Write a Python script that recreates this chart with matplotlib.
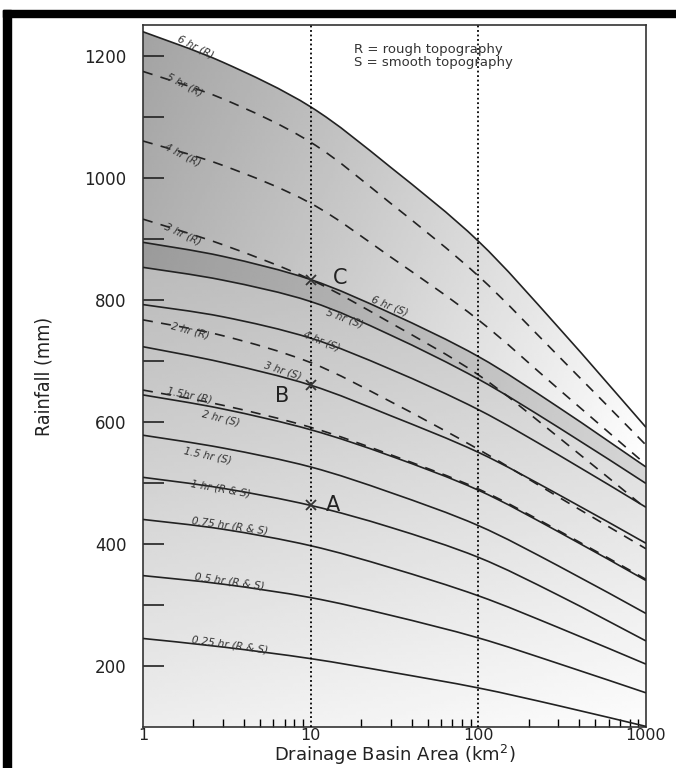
import numpy as np
import matplotlib.pyplot as plt
from matplotlib.patches import Rectangle, PathPatch
from matplotlib.path import Path

area = [1, 3, 10, 30, 100, 300, 1000]

# rainfall (mm), rough topography (dashed, 6 hr is the solid outline)
r6 = [1239, 1189, 1116, 1017, 896, 755, 591]
r5 = [1174, 1129, 1058, 958, 839, 708, 562]
r4 = [1060, 1020, 958, 870, 767, 654, 530]
r3 = [932, 890, 833, 762, 677, 575, 458]
r2 = [767, 741, 697, 633, 555, 477, 392]
r15 = [652, 627, 591, 546, 490, 422, 342]

# rainfall (mm), smooth topography and both (solid)
s6 = [894, 871, 833, 778, 707, 624, 526]
s5 = [853, 832, 797, 742, 670, 591, 499]
s4 = [792, 772, 737, 686, 620, 546, 460]
s3 = [723, 697, 660, 610, 550, 481, 401]
s2 = [644, 621, 587, 544, 488, 420, 340]
s15 = [578, 557, 526, 484, 430, 364, 286]
rs1 = [509, 491, 463, 427, 378, 316, 241]
rs075 = [440, 424, 397, 361, 315, 263, 203]
rs05 = [348, 334, 312, 283, 246, 204, 156]
rs025 = [245, 231, 212, 190, 164, 135, 101]

points = {'A': (10, 463), 'B': (10, 660), 'C': (10, 833)}


def smooth_path(xs, ys):
    # bezier path through the read points (control points placed in log-x space)
    L = np.log10(xs)
    v = np.array(ys, dtype=float)
    n = len(L)
    verts = [(xs[0], v[0])]
    codes = [Path.MOVETO]
    for i in range(n - 1):
        i0, i2 = max(i - 1, 0), min(i + 2, n - 1)
        c1 = (L[i] + (L[i + 1] - L[i0]) / 6, v[i] + (v[i + 1] - v[i0]) / 6)
        c2 = (L[i + 1] - (L[i2] - L[i]) / 6, v[i + 1] - (v[i2] - v[i]) / 6)
        verts += [(10 ** c1[0], c1[1]), (10 ** c2[0], c2[1]), (xs[i + 1], v[i + 1])]
        codes += [Path.CURVE4] * 3
    return verts, codes


fig = plt.figure(figsize=(6.76, 7.68), dpi=100)
ax = fig.add_axes([0.2115, 0.0534, 0.744, 0.914])
ax.set_xscale('log')
ax.set_xlim(1, 1000)
ax.set_ylim(100, 1250)

# frame of the figure (left and top black bars)
fig.patches.append(Rectangle((0.005, 0), 0.012, 0.987, transform=fig.transFigure,
                             color='black', zorder=10))
fig.patches.append(Rectangle((0.005, 0.978), 0.995, 0.009, transform=fig.transFigure,
                             color='black', zorder=10))

# shaded areas: a gradient image clipped to each band
xx, yy = np.meshgrid(np.linspace(0, 1, 200), np.linspace(0, 1, 200))


def band(lower, upper, g):
    uv, uc = smooth_path(area, upper)
    if lower is None:
        lv = [(area[-1], 100), (area[0], 100)]
        lc = [Path.LINETO, Path.LINETO]
    else:
        lv, lc = smooth_path(area, lower)
        lv = lv[::-1]
        lc = [Path.LINETO] + [Path.CURVE4] * (len(lv) - 1)
    path = Path(uv + lv + [uv[0]], uc + lc + [Path.CLOSEPOLY])
    im = ax.imshow(np.clip(g, 0, 1), cmap='gray', vmin=0, vmax=1, origin='lower',
                   extent=[0, 1, 0, 1], transform=ax.transAxes, aspect='auto',
                   interpolation='bilinear', zorder=0)
    im.set_clip_path(path, transform=ax.transData)


band(s6, r6, 0.64 + 0.26 * xx + 0.16 * (0.98 - yy))
band(s5, s6, 0.6 + 0.2 * xx + 0.1 * (0.75 - yy))
band(None, s5, 0.72 + 0.3 * (0.7 - yy) + 0.06 * xx)

solid = [r6, s6, s5, s4, s3, s2, s15, rs1, rs075, rs05, rs025]
for s in solid:
    v, c = smooth_path(area, s)
    ax.add_patch(PathPatch(Path(v, c), facecolor='none', edgecolor='#222222',
                           lw=1.2, zorder=3))
for d in [r5, r4, r3, r2, r15]:
    v, c = smooth_path(area, d)
    ax.add_patch(PathPatch(Path(v, c), facecolor='none', edgecolor='#222222',
                           lw=1.2, ls=(0, (6, 5)), zorder=3))

for xv in [10, 100]:
    ax.axvline(xv, color='black', ls=(0, (1, 1.5)), lw=1.3, zorder=4)

# curve labels
labels = [
    ('6 hr (R)', 2.05, 1214, -27), ('5 hr (R)', 1.78, 1152, -27),
    ('4 hr (R)', 1.73, 1037, -27), ('3 hr (R)', 1.73, 908, -25),
    ('2 hr (R)', 1.9, 750, -15), ('1.5hr (R)', 1.9, 643, -12),
    ('6 hr (S)', 29.7, 790, -22), ('5 hr (S)', 16, 770, -20),
    ('4 hr (S)', 11.7, 733, -22), ('3 hr (S)', 6.8, 684, -18),
    ('2 hr (S)', 2.9, 605, -14), ('1.5 hr (S)', 2.44, 544, -12),
    ('1 hr (R & S)', 2.9, 490, -10), ('0.75 hr (R & S)', 3.3, 429, -8),
    ('0.5 hr (R & S)', 3.3, 339, -8), ('0.25 hr (R & S)', 3.3, 235, -8),
]
for t, xv, yv, rot in labels:
    ax.text(xv, yv, t, fontsize=7.5, style='italic', color='#333333', rotation=rot,
            ha='center', va='center', zorder=5)

for k, (xv, yv) in points.items():
    ax.plot(xv, yv, marker='x', color='#333333', ms=7, mew=1.3, zorder=6)
ax.text(14.9, 836, 'C', fontsize=15, color='#222222', va='center', ha='center', zorder=6)
ax.text(6.8, 642, 'B', fontsize=15, color='#222222', va='center', ha='center', zorder=6)
ax.text(13.6, 463, 'A', fontsize=15, color='#222222', va='center', ha='center', zorder=6)

ax.text(0.42, 0.975, 'R = rough topography\nS = smooth topography', transform=ax.transAxes,
        fontsize=9.5, color='#333333', va='top', ha='left', linespacing=1.0)

ax.set_yticks([200, 400, 600, 800, 1000, 1200])
ax.set_yticks([300, 500, 700, 900, 1100], minor=True)
ax.set_yticklabels(['200', '400', '600', '800', '1000', '1200'])
ax.set_xticks([1, 10, 100, 1000])
ax.set_xticklabels(['1', '10', '100', '1000'])
ax.tick_params(axis='y', which='both', direction='in', length=15, width=1.2,
               labelsize=12, colors='#222222', pad=12)
ax.tick_params(axis='x', which='major', direction='in', length=0, labelsize=11.5,
               colors='#222222', pad=1)
ax.tick_params(axis='x', which='minor', direction='in', length=6, width=1)
for sp in ax.spines.values():
    sp.set_linewidth(1.2)
    sp.set_color('#333333')

ax.set_xlabel('Drainage Basin Area (km$^2$)', fontsize=13, color='#222222', labelpad=0)
ax.set_ylabel('Rainfall (mm)', fontsize=14, color='#222222', labelpad=22,
              family='DejaVu Sans', fontstretch='condensed')

fig.savefig('out.png', dpi=100)
